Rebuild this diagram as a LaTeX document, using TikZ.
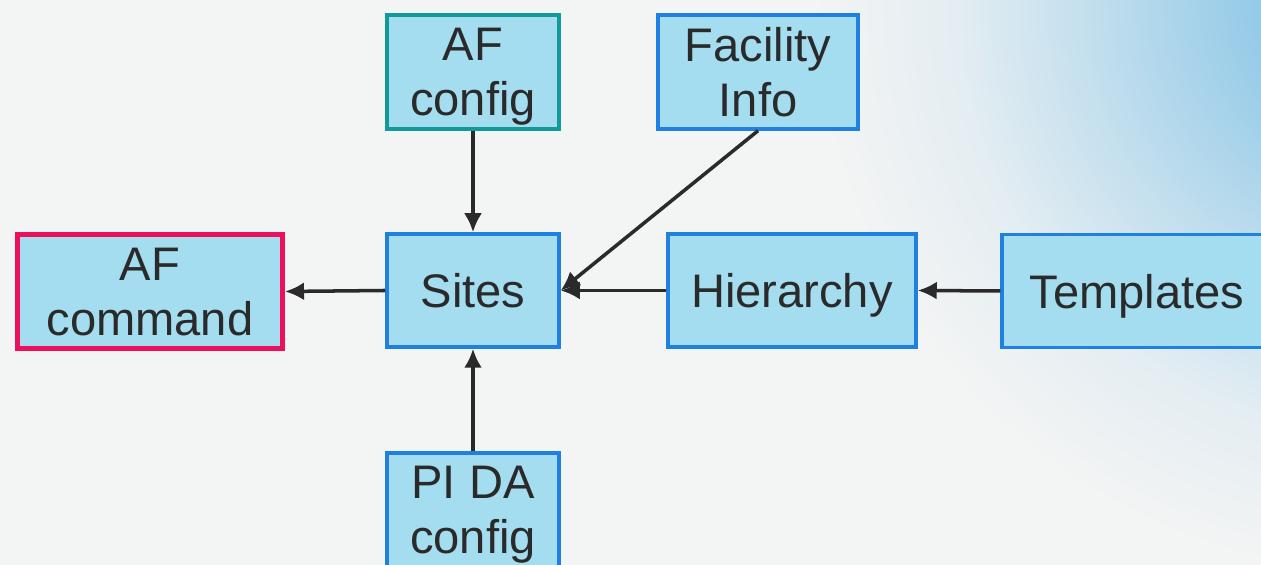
\documentclass[tikz,border=0pt]{standalone}
\usepackage{fontspec}
\setmainfont{Liberation Sans}
\usepackage{xcolor}
\usepackage{tikz}
\usetikzlibrary{arrows.meta, positioning, calc}

\definecolor{bggray}{HTML}{F3F4F4}
\definecolor{bgblue}{HTML}{86C4E6}
\definecolor{boxfill}{HTML}{A4DDF0}
\definecolor{edgeblue}{HTML}{1F80E0}
\definecolor{edgeteal}{HTML}{12999A}
\definecolor{edgered}{HTML}{EC0F5C}
\definecolor{inkdark}{HTML}{2A2A2A}

\pgfdeclareradialshading{bgglow}{\pgfpoint{0bp}{0bp}}{%
    color(0bp)=(bgblue); color(6bp)=(bgblue!85!bggray); color(13bp)=(bgblue!45!bggray);
    color(19bp)=(bgblue!14!bggray); color(25bp)=(bggray); color(50bp)=(bggray)}

\begin{document}
\begin{tikzpicture}[
    box/.style={draw=edgeblue, line width=0.07cm, fill=boxfill, text=inkdark,
        align=center, inner sep=0pt, minimum height=2.28cm, text depth=0pt,
        font=\fontsize{26.8}{31.2}\selectfont},
    arr/.style={-{Latex[length=0.38cm, width=0.36cm]}, line width=2pt, draw=inkdark}
]
    % 背景
    \useasboundingbox (0, 0) rectangle (25.22, 11.3);
    \fill[bggray] (0, 0) rectangle (25.22, 11.3);
    \begin{scope}
        \clip (0, 0) rectangle (25.22, 11.3);
        \shade[shading=bgglow] (27.8, 11.3) circle (11.5);
    \end{scope}

    % 方框
    \node[box, draw=edgered, line width=0.1cm, minimum width=5.3cm] (afcmd) at (3.0, 5.47) {AF\\command};
    \node[box, draw=edgeteal, line width=0.08cm, minimum width=3.44cm] (afcfg) at (9.46, 9.86) {AF\\config};
    \node[box, minimum width=4.0cm] (facinfo) at (15.16, 9.86) {Facility\\Info};
    \node[box, minimum width=3.44cm, minimum height=2.26cm] (sites) at (9.46, 5.49) {Sites};
    \node[box, minimum width=4.96cm, minimum height=2.26cm] (hier) at (15.84, 5.49) {Hierarchy};
    \node[box, minimum width=5.4cm, minimum height=2.26cm] (tmpl) at (22.74, 5.48) {Templates};
    \node[box, minimum width=3.44cm] (pida) at (9.46, 1.1) {PI DA\\config};

    % 箭头
    \draw[arr] (afcfg.south) -- (sites.north);
    \draw[arr] (facinfo.south) -- (sites.east);
    \draw[arr] (hier.west) -- (sites.east);
    \draw[arr] (tmpl.west) -- (hier.east);
    \draw[arr] (pida.north) -- (sites.south);
    \draw[arr] (sites.west) -- (afcmd.east);
\end{tikzpicture}
\end{document}
